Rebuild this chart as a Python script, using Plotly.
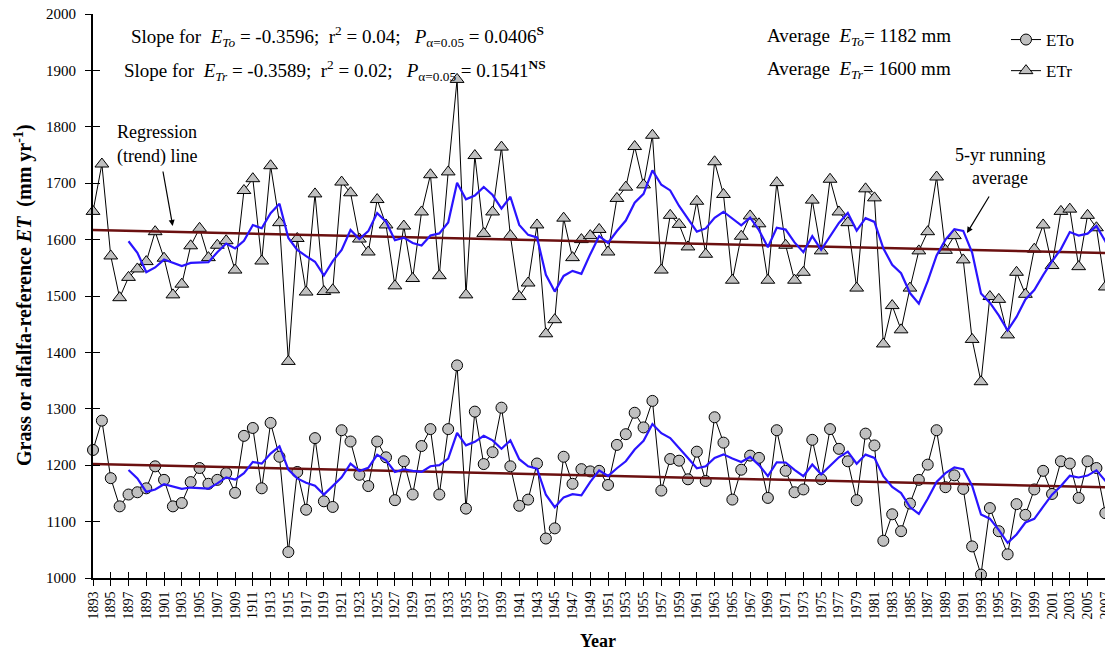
import plotly.graph_objects as go
import pandas as pd

years = list(range(1893, 2009))

etr = [1650, 1734, 1571, 1497, 1533, 1548, 1561, 1614, 1567, 1502, 1521, 1589, 1620, 1568, 1590, 1598, 1546, 1687, 1708, 1562, 1731, 1630, 1384, 1602, 1507,
       1681, 1508, 1511, 1702, 1683, 1601, 1578, 1671, 1626, 1518, 1624, 1531, 1649, 1715, 1536, 1720, 1884, 1502, 1749, 1611, 1649, 1764, 1607,
       1499, 1523, 1626, 1433, 1458, 1638, 1568, 1600, 1607, 1618, 1578, 1673, 1693, 1765, 1697, 1785, 1546, 1643, 1627, 1587, 1668, 1574, 1738,
       1680, 1528, 1606, 1642, 1628, 1528, 1701, 1590, 1528, 1542, 1670, 1580, 1707, 1649, 1630, 1514, 1690, 1674, 1415, 1483, 1440, 1514, 1580,
       1614, 1711, 1581, 1607, 1564, 1423, 1348, 1499, 1494, 1431, 1542, 1503, 1583, 1626, 1554, 1650, 1654, 1552, 1643, 1621, 1516, 1467]

eto = [1227, 1279, 1177, 1127, 1148, 1152, 1159, 1198, 1174, 1127, 1133, 1170, 1195, 1167, 1174, 1186, 1151, 1252, 1266, 1159, 1275, 1215, 1046, 1188, 1121,
       1248, 1136, 1126, 1262, 1242, 1183, 1163, 1242, 1214, 1138, 1207, 1148, 1234, 1264, 1148, 1264, 1377, 1123, 1295, 1202, 1223, 1302, 1198,
       1128, 1139, 1203, 1070, 1088, 1215, 1167, 1193, 1189, 1190, 1165, 1236, 1255, 1293, 1267, 1314, 1155, 1211, 1208, 1175, 1224, 1172, 1285,
       1240, 1139, 1192, 1217, 1213, 1142, 1262, 1190, 1152, 1157, 1245, 1175, 1264, 1229, 1207, 1138, 1256, 1235, 1066, 1113, 1083, 1132, 1174,
       1201, 1262, 1161, 1182, 1158, 1056, 1006, 1124, 1083, 1042, 1131, 1112, 1157, 1190, 1149, 1207, 1203, 1142, 1207, 1195, 1115, 1083]

# regression (trend) lines: slope and value at first year
slope_eto = -0.3596
slope_etr = -0.3589
trend_start_eto = 1202
trend_start_etr = 1617
trend_years = [1893, 2008]

tick_years = list(range(1893, 2008, 2))
y_ticks = list(range(1000, 2001, 100))

FONT = "Liberation Serif, Times New Roman, serif"
# page body has an 8px margin; size the figure so it fits the 1113x655 window
OFF = 8
W, H = 1113 - OFF, 655 - OFF
SL, ST, SB = 93, 14, 578          # plot area edges in screen pixels
PW, PH = 1113 - SL, SB - ST
L, T = SL - OFF, ST - OFF
B = H - T - PH
XR = [1893, 1893 + PW / 8.88]


def px(x):
    return (x - SL) / PW


def py(y):
    return 1 - (y - ST) / PH


run_eto = pd.Series(eto).rolling(5).mean()
run_etr = pd.Series(etr).rolling(5).mean()

fig = go.Figure()

marker_line = dict(color="black", width=1)
fig.add_trace(go.Scatter(x=years, y=eto, mode="lines+markers", name="ETo",
                         line=dict(color="black", width=1),
                         marker=dict(symbol="circle", size=11, color="#c0c0c0", line=marker_line),
                         cliponaxis=False, legendgroup="a"))
fig.add_trace(go.Scatter(x=years, y=etr, mode="lines+markers", name="ETr",
                         line=dict(color="black", width=1),
                         marker=dict(symbol="triangle-up", size=12, color="#c0c0c0", line=marker_line),
                         cliponaxis=False, legendgroup="b"))

for start, slope in [(trend_start_eto, slope_eto), (trend_start_etr, slope_etr)]:
    ty = [start + slope * (yy - trend_years[0]) for yy in trend_years]
    fig.add_trace(go.Scatter(x=trend_years, y=ty, mode="lines", showlegend=False,
                             line=dict(color="#6b1010", width=2.5), cliponaxis=True, hoverinfo="skip"))

for run in (run_eto, run_etr):
    fig.add_trace(go.Scatter(x=years, y=run, mode="lines", showlegend=False,
                             line=dict(color="#2a14ff", width=2.2), cliponaxis=True, hoverinfo="skip"))

# invisible trace to draw crossing (inside) tick marks
fig.add_trace(go.Scatter(x=[1893], y=[1000], xaxis="x2", yaxis="y2", mode="markers",
                         marker=dict(opacity=0), showlegend=False, hoverinfo="skip"))

fig.update_layout(
    width=W, height=H,
    margin=dict(l=L, r=0, t=T, b=B, autoexpand=False),
    plot_bgcolor="white", paper_bgcolor="white",
    font=dict(family=FONT, color="black", size=15),
    showlegend=True,
    legend=dict(x=px(1006), y=py(22), xanchor="left", yanchor="top",
                font=dict(family=FONT, size=17), bgcolor="rgba(0,0,0,0)",
                itemwidth=30, tracegroupgap=6, traceorder="grouped"),
    xaxis=dict(range=XR, tickmode="array", tickvals=tick_years, ticktext=[str(v) for v in tick_years],
               tickangle=-90, tickfont=dict(size=14, family=FONT), ticks="outside", ticklen=6,
               tickwidth=1, tickcolor="black", showline=True, linecolor="black", linewidth=2,
               showgrid=False, zeroline=False, ticklabeloverflow="allow"),
    yaxis=dict(range=[1000, 2000], tickmode="array", tickvals=y_ticks, tickfont=dict(size=15, family=FONT),
               ticks="outside", ticklen=6, tickwidth=1, tickcolor="black", showline=True,
               linecolor="black", linewidth=2, showgrid=False, zeroline=False,
               ticklabeloverflow="allow", ticklabelstandoff=6),
    xaxis2=dict(range=XR, overlaying="x", anchor="y2", tickmode="array", tickvals=tick_years,
                showticklabels=False, ticks="inside", ticklen=6, tickwidth=1, tickcolor="black",
                showline=False, showgrid=False, zeroline=False),
    yaxis2=dict(range=[1000, 2000], overlaying="y", anchor="x2", tickmode="array", tickvals=y_ticks,
                showticklabels=False, ticks="inside", ticklen=7, tickwidth=1, tickcolor="black",
                showline=False, showgrid=False, zeroline=False),
)

S = "\u00a0"
ann = []


def text(x, y, t, size=19, xanchor="left", **kw):
    ann.append(dict(x=px(x), y=py(y), xref="paper", yref="paper", text=t, showarrow=False,
                    xanchor=xanchor, yanchor="middle", font=dict(family=FONT, size=size, color="black"), **kw))


text(129, 37, f"Slope for{S}{S}<i>E</i><sub><i>To</i></sub> = -0.3596;{S}{S}r<sup>2</sup> = 0.04;{S}{S}{S}<i>P</i><sub>α=0.05</sub> = 0.0406<sup><b>S</b></sup>")
text(122, 70, f"Slope for{S}{S}<i>E</i><sub><i>Tr</i></sub> = -0.3589;{S}{S}r<sup>2</sup> = 0.02;{S}{S}{S}<i>P</i><sub>α=0.05</sub> = 0.1541<sup><b>NS</b></sup>")
text(765, 37, f"Average{S}{S}<i>E</i><sub><i>To</i></sub>= 1182 mm")
text(765, 70, f"Average{S}{S}<i>E</i><sub><i>Tr</i></sub>= 1600 mm")
text(157, 132, "Regression", size=18, xanchor="center")
text(157, 156, "(trend) line", size=18, xanchor="center")
text(1000, 155, "5-yr running", size=18, xanchor="center")
text(1000, 178, "average", size=18, xanchor="center")
text(598, 641, "<b>Year</b>", size=18, xanchor="center")
text(8.5, 295, "<b>Grass or alfalfa-reference <i>ET</i>" + S + S + "(mm yr<sup>-1</sup>)</b>", size=20,
     xanchor="left", textangle=-90)

for hx, hy, tx, ty in [(172.7, 226, 162.7, 170), (967, 233, 990, 195)]:
    ann.append(dict(x=px(hx), y=py(hy), xref="paper", yref="paper", text="", showarrow=True,
                    ax=tx - hx, ay=ty - hy, axref="pixel", ayref="pixel", arrowhead=2, arrowsize=1,
                    arrowwidth=1.2, arrowcolor="black", standoff=0, startstandoff=0))

fig.update_layout(annotations=ann)

fig.write_html("out.html", config={"displayModeBar": False})
